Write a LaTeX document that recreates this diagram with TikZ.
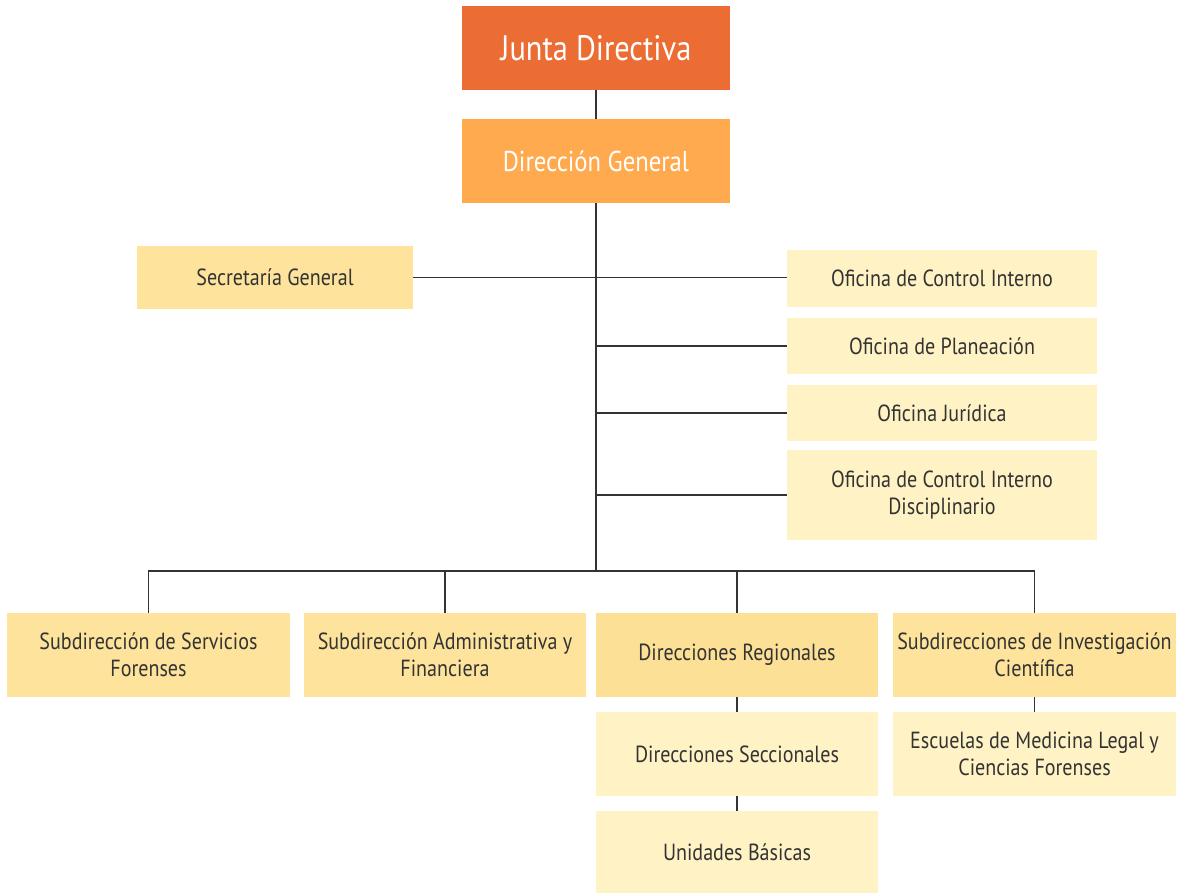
\documentclass[tikz,border=0pt]{standalone}
\usepackage{fontspec}
\setmainfont[FakeStretch=0.86]{PT Sans}
\definecolor{cJD}{HTML}{EB6D33}
\definecolor{cDG}{HTML}{FFAA4F}
\definecolor{cY}{HTML}{FDE39B}
\definecolor{cYD}{HTML}{FCE096}
\definecolor{cL}{HTML}{FFF2C4}
\definecolor{cT}{HTML}{333333}
\definecolor{cLine}{HTML}{333333}
\tikzset{
  box/.style={rectangle, inner sep=2pt, align=center, text=cT, font=\fontsize{17.5}{20.3}\selectfont},
  topbox/.style={box, text=white},
  link/.style={draw=cLine, line width=1.1pt},
}
\begin{document}
\begin{tikzpicture}[x=0.75pt,y=-0.75pt]
\useasboundingbox (0,0) rectangle (1181,894);
% top
\node[topbox, fill=cJD, minimum width=268*0.75pt, minimum height=84*0.75pt, font=\fontsize{26.5}{30}\selectfont] (jd) at (596,48) {Junta Directiva};
\node[topbox, fill=cDG, minimum width=268*0.75pt, minimum height=84*0.75pt, font=\fontsize{21.5}{25}\selectfont] (dg) at (596,161) {Dirección General};
% side
\node[box, fill=cY, minimum width=276*0.75pt, minimum height=63*0.75pt] (sg) at (275,277.5) {Secretaría General};
\node[box, fill=cL, minimum width=310*0.75pt, minimum height=57*0.75pt] (oci) at (942,278.5) {Oficina de Control Interno};
\node[box, fill=cL, minimum width=310*0.75pt, minimum height=56*0.75pt] (op) at (942,346) {Oficina de Planeación};
\node[box, fill=cL, minimum width=310*0.75pt, minimum height=56*0.75pt] (oj) at (942,413) {Oficina Jurídica};
\node[box, fill=cL, minimum width=310*0.75pt, minimum height=90*0.75pt] (ocid) at (942,495) {Oficina de Control Interno\\Disciplinario};
% bottom tier
\node[box, fill=cY, minimum width=283*0.75pt, minimum height=84*0.75pt] (ssf) at (148.5,655) {Subdirección de Servicios\\Forenses};
\node[box, fill=cY, minimum width=282*0.75pt, minimum height=84*0.75pt] (saf) at (445,655) {Subdirección Administrativa y\\Financiera};
\node[box, fill=cYD, minimum width=282*0.75pt, minimum height=84*0.75pt] (dr) at (737,655) {Direcciones Regionales};
\node[box, fill=cY, minimum width=283*0.75pt, minimum height=84*0.75pt] (sic) at (1034.5,655) {Subdirecciones de Investigación\\Científica};
\node[box, fill=cL, minimum width=282*0.75pt, minimum height=84*0.75pt] (ds) at (737,754) {Direcciones Seccionales};
\node[box, fill=cL, minimum width=282*0.75pt, minimum height=82*0.75pt] (ub) at (737,852) {Unidades Básicas};
\node[box, fill=cL, minimum width=283*0.75pt, minimum height=84*0.75pt] (esc) at (1034.5,754) {Escuelas de Medicina Legal y\\Ciencias Forenses};
% connectors
\coordinate (bus) at (596,571);
\draw[link] (jd) -- (dg);
\draw[link] (dg.south) -- (bus);
\draw[link] (sg.east) -- (sg.east -| oci.west);
\draw[link] (op.west -| dg.south) -- (op.west);
\draw[link] (oj.west -| dg.south) -- (oj.west);
\draw[link] (ocid.west -| dg.south) -- (ocid.west);
\draw[link] (ssf.north) |- (bus) -| (sic.north);
\draw[link] (saf.north) -- (saf.north |- bus);
\draw[link] (dr.north) -- (dr.north |- bus);
\draw[link] (dr) -- (ds);
\draw[link] (ds) -- (ub);
\draw[link] (sic) -- (esc);
\end{tikzpicture}
\end{document}
